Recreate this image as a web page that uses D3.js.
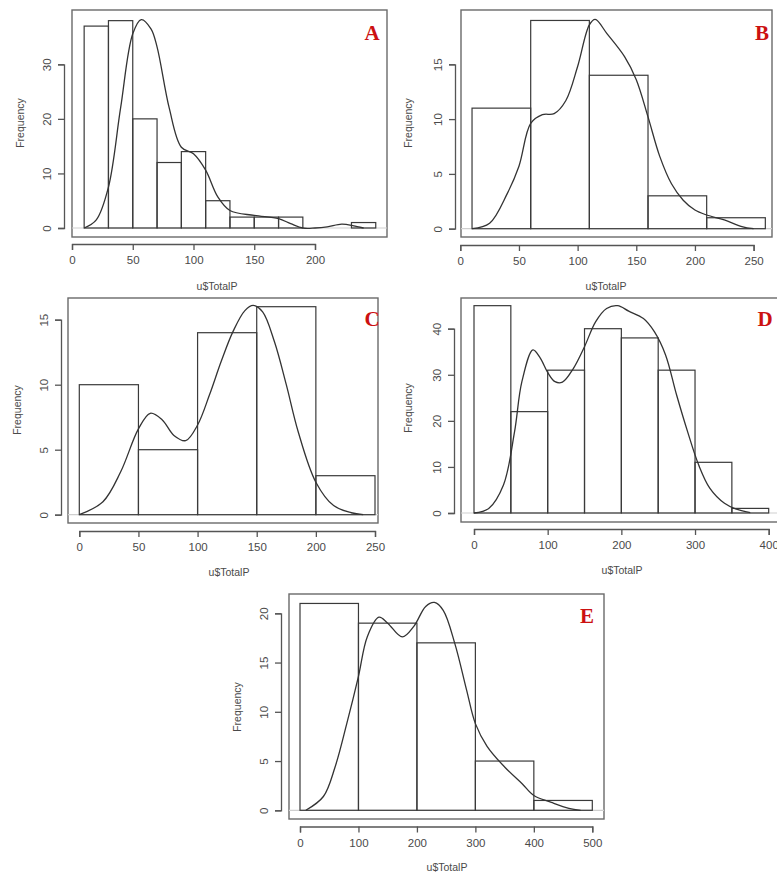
<!DOCTYPE html>
<html>
<head>
<meta charset="utf-8">
<script src="https://cdn.jsdelivr.net/npm/d3@7"></script>
<style>
  html, body { margin: 0; padding: 0; background: #fff; }
  svg { display: block; }
</style>
</head>
<body>
<svg id="fig" width="777" height="873"></svg>
<script>
// Histogram bin edges and counts, density curve samples and ticks per panel
const panelLetters = ["A", "B", "C", "D", "E"];

const edgesA = [10, 30, 50, 70, 90, 110, 130, 150, 170, 190, 210, 230, 250];
const countsA = [37, 38, 20, 12, 14, 5, 2, 2, 2, 0, 0, 1];
const densXA = [10, 20, 30, 40, 50, 57, 65, 70, 80, 90, 100, 110, 120, 130, 150, 170, 180, 190, 200, 210, 222, 232, 240];
const densYA = [0, 1.5, 7.5, 22, 35.6, 38.2, 36.5, 33.2, 22, 14.8, 13.6, 10.6, 5.7, 3.2, 2.3, 1.7, 0.8, 0, 0, 0.2, 0.7, 0.4, 0];
const xTicksA = [0, 50, 100, 150, 200];
const yTicksA = [0, 10, 20, 30];

const edgesB = [10, 60, 110, 160, 210, 260];
const countsB = [11, 19, 14, 3, 1];
const densXB = [10, 25, 40, 50, 60, 70, 80, 90, 100, 110, 115, 125, 140, 150, 160, 170, 180, 190, 200, 210, 225, 240, 250];
const densYB = [0, 0.5, 3.2, 5.7, 9.6, 10.4, 10.5, 11.7, 14.8, 18.6, 19.1, 17.8, 15.7, 13.6, 10.2, 6.6, 4.1, 2.6, 1.7, 1.25, 0.8, 0.2, 0];
const xTicksB = [0, 50, 100, 150, 200, 250];
const yTicksB = [0, 5, 10, 15];

const edgesC = [0, 50, 100, 150, 200, 250];
const countsC = [10, 5, 14, 16, 3];
const densXC = [0, 20, 35, 50, 60, 70, 80, 90, 100, 110, 120, 130, 140, 147, 155, 165, 175, 185, 200, 215, 230, 240];
const densYC = [0, 1.0, 3.3, 6.6, 7.8, 7.3, 6.1, 5.7, 6.9, 9.2, 11.8, 14.1, 15.7, 16.1, 15.6, 13.3, 10.0, 6.4, 2.5, 0.7, 0.15, 0];
const xTicksC = [0, 50, 100, 150, 200, 250];
const yTicksC = [0, 5, 10, 15];

const edgesD = [0, 50, 100, 150, 200, 250, 300, 350, 400];
const countsD = [45, 22, 31, 40, 38, 31, 11, 1];
const densXD = [0, 20, 40, 55, 65, 80, 90, 100, 110, 120, 135, 150, 165, 180, 195, 210, 230, 245, 260, 275, 290, 305, 320, 340, 355, 375];
const densYD = [0, 1.0, 6.1, 17.6, 28.5, 35.4, 33.6, 30.5, 28.5, 28.4, 31.4, 36.1, 41.5, 44.4, 45, 43.8, 42.2, 39.3, 34.3, 25.6, 17.6, 10.4, 5.4, 2.1, 0.9, 0.1];
const xTicksD = [0, 100, 200, 300, 400];
const yTicksD = [0, 10, 20, 30, 40];

const edgesE = [0, 100, 200, 300, 400, 500];
const countsE = [21, 19, 17, 5, 1];
const densXE = [10, 40, 60, 80, 100, 115, 135, 150, 175, 195, 215, 230, 245, 265, 285, 300, 320, 350, 380, 400, 430, 460, 480];
const densYE = [0, 1.4, 4.4, 8.8, 13.6, 17.6, 19.6, 19.0, 17.6, 18.7, 20.7, 21.1, 20.3, 16.9, 12.2, 8.8, 6.5, 4.4, 2.7, 1.5, 0.8, 0.2, 0];
const xTicksE = [0, 100, 200, 300, 400, 500];
const yTicksE = [0, 5, 10, 15, 20];

const xTitle = "u$TotalP";
const yTitle = "Frequency";

// Panel placement on the page (pixels)
const layout = {
  A: { box: [72, 10, 387, 237], xr: [72, 315], yr: [228, 64.3], yAxisX: 64, xAxisY: 244, xLab: [217, 286], yLab: [20, 123], tag: [372, 40] },
  B: { box: [461, 10, 772, 237], xr: [460.3, 753.6], yr: [228.7, 64.3], yAxisX: 455, xAxisY: 245, xLab: [606, 286], yLab: [408, 123], tag: [762, 40] },
  C: { box: [68, 298, 378, 523], xr: [79.3, 375], yr: [514.7, 319.7], yAxisX: 61, xAxisY: 531, xLab: [229, 572], yLab: [17, 410], tag: [372, 326] },
  D: { box: [461, 298, 790, 522], xr: [474, 768.7], yr: [513, 328.7], yAxisX: 454, xAxisY: 529, xLab: [622, 570], yLab: [408, 408], tag: [765, 326] },
  E: { box: [289, 594, 604, 819], xr: [300, 592.3], yr: [810.3, 613.3], yAxisX: 281, xAxisY: 826.5, xLab: [447, 867], yLab: [237, 707], tag: [587, 623] }
};

const panels = {
  A: { edges: edgesA, counts: countsA, dx: densXA, dy: densYA, xt: xTicksA, yt: yTicksA },
  B: { edges: edgesB, counts: countsB, dx: densXB, dy: densYB, xt: xTicksB, yt: yTicksB },
  C: { edges: edgesC, counts: countsC, dx: densXC, dy: densYC, xt: xTicksC, yt: yTicksC },
  D: { edges: edgesD, counts: countsD, dx: densXD, dy: densYD, xt: xTicksD, yt: yTicksD },
  E: { edges: edgesE, counts: countsE, dx: densXE, dy: densYE, xt: xTicksE, yt: yTicksE }
};

const svg = d3.select("#fig");
const ink = "#3a3a3a";
const textInk = "#4a4a4a";
const fontSans = "Arial, 'Liberation Sans', sans-serif";

panelLetters.forEach(id => {
  const p = panels[id], L = layout[id];
  const g = svg.append("g").attr("class", "panel-" + id);

  const x = d3.scaleLinear()
    .domain([p.xt[0], p.xt[p.xt.length - 1]])
    .range(L.xr);
  const y = d3.scaleLinear()
    .domain([p.yt[0], p.yt[p.yt.length - 1]])
    .range(L.yr);

  // plot frame
  const [bx0, by0, bx1, by1] = L.box;
  g.append("rect")
    .attr("x", bx0).attr("y", by0)
    .attr("width", bx1 - bx0).attr("height", by1 - by0)
    .attr("fill", "none").attr("stroke", "#6a6a6a").attr("stroke-width", 1.4);

  // zero reference line
  g.append("line")
    .attr("x1", bx0).attr("x2", bx1)
    .attr("y1", y(0)).attr("y2", y(0))
    .attr("stroke", "#cfcfcf").attr("stroke-width", 1.2);

  // histogram bars
  const bins = p.counts.map((c, i) => ({ x0: p.edges[i], x1: p.edges[i + 1], n: c }))
    .filter(b => b.n > 0);
  g.selectAll("rect.bar").data(bins).join("rect")
    .attr("class", "bar")
    .attr("x", d => x(d.x0))
    .attr("y", d => y(d.n))
    .attr("width", d => x(d.x1) - x(d.x0))
    .attr("height", d => y(0) - y(d.n))
    .attr("fill", "none")
    .attr("stroke", ink)
    .attr("stroke-width", 1.2);

  // kernel density overlay
  const pts = p.dx.map((v, i) => [v, p.dy[i]]);
  const line = d3.line()
    .x(d => x(d[0]))
    .y(d => y(d[1]))
    .curve(d3.curveCatmullRom.alpha(0.5));
  g.append("path")
    .attr("d", line(pts))
    .attr("fill", "none")
    .attr("stroke", "#333")
    .attr("stroke-width", 1.3);

  // x axis
  const xAxis = d3.axisBottom(x).tickValues(p.xt).tickSize(6).tickPadding(6).tickFormat(d3.format("d"));
  const gx = g.append("g").attr("transform", `translate(0,${L.xAxisY})`).call(xAxis);
  gx.select(".domain").attr("stroke", "#555").attr("stroke-width", 1.3);
  gx.selectAll(".tick line").attr("stroke", "#555").attr("stroke-width", 1.3);
  gx.selectAll(".tick text").attr("fill", textInk).attr("font-size", 11.5).attr("font-family", fontSans);

  // y axis with R-style vertical labels
  const yAxis = d3.axisLeft(y).tickValues(p.yt).tickSize(6).tickFormat(d3.format("d"));
  const gy = g.append("g").attr("transform", `translate(${L.yAxisX},0)`).call(yAxis);
  gy.select(".domain").attr("stroke", "#555").attr("stroke-width", 1.3);
  gy.selectAll(".tick line").attr("stroke", "#555").attr("stroke-width", 1.3);
  gy.selectAll(".tick text")
    .attr("fill", textInk).attr("font-size", 11.5).attr("font-family", fontSans)
    .attr("x", null).attr("dy", null)
    .attr("text-anchor", "middle")
    .attr("transform", "translate(-17,0) rotate(-90)")
    .attr("dominant-baseline", "central");

  // axis titles
  g.append("text")
    .attr("x", L.xLab[0]).attr("y", L.xLab[1])
    .attr("text-anchor", "middle").attr("dominant-baseline", "central")
    .attr("font-family", fontSans).attr("font-size", 10.5).attr("fill", textInk)
    .text(xTitle);
  g.append("text")
    .attr("transform", `translate(${L.yLab[0]},${L.yLab[1]}) rotate(-90)`)
    .attr("text-anchor", "middle").attr("dominant-baseline", "central")
    .attr("font-family", fontSans).attr("font-size", 10.5).attr("fill", textInk)
    .text(yTitle);

  // panel letter
  g.append("text")
    .attr("x", L.tag[0]).attr("y", L.tag[1])
    .attr("text-anchor", "middle")
    .attr("font-family", "'Liberation Serif', 'Times New Roman', serif")
    .attr("font-weight", "bold").attr("font-size", 21).attr("fill", "#cc1111")
    .text(id);
});
</script>
</body>
</html>
